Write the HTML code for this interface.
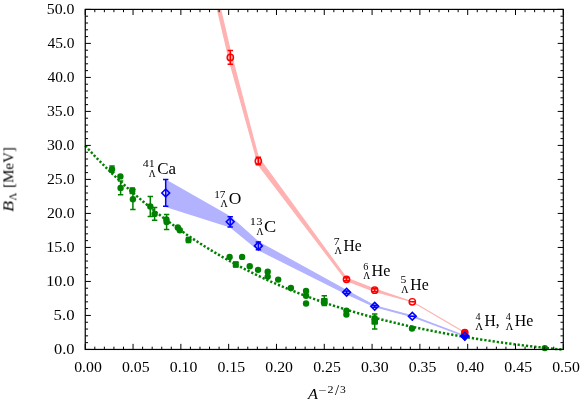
<!DOCTYPE html><html><head><meta charset="utf-8"><style>html,body{margin:0;padding:0;background:#fff}</style></head><body><svg width="581" height="402" viewBox="0 0 581 402" style="display:block">
<rect width="581" height="402" fill="#fff"/>
<defs><clipPath id="c"><rect x="85.25" y="9.4" width="478.04999999999995" height="340.05"/></clipPath></defs>
<polygon points="165.70,180.05 230.20,216.70 258.40,241.95 346.60,290.50 374.70,305.75 412.30,315.80 464.80,335.90 464.80,336.30 412.30,316.70 374.70,306.75 346.60,293.90 258.40,249.85 230.20,226.90 165.70,206.35" fill="#b2b2ff" stroke="#b2b2ff" stroke-width="1.15" stroke-linejoin="round" clip-path="url(#c)"/>
<polygon points="166.20,-221.50 230.30,50.60 258.30,157.20 346.50,278.00 374.70,289.00 412.30,301.70 464.80,332.50 464.80,332.50 412.30,301.80 374.70,291.40 346.50,280.60 258.30,164.80 230.30,64.20 166.20,-207.90" fill="#ffb2b2" stroke="#ffb2b2" stroke-width="1.15" stroke-linejoin="round" clip-path="url(#c)"/>
<path d="M85.25,145.78 L87.64,148.39 L90.04,150.97 L92.43,153.52 L94.83,156.05 L97.22,158.55 L99.62,161.02 L102.01,163.47 L104.41,165.89 L106.80,168.28 L109.20,170.65 L111.59,172.99 L113.99,175.31 L116.38,177.60 L118.78,179.87 L121.17,182.11 L123.57,184.33 L125.96,186.52 L128.36,188.69 L130.75,190.83 L133.14,192.95 L135.54,195.05 L137.93,197.12 L140.33,199.17 L142.72,201.20 L145.12,203.20 L147.51,205.18 L149.91,207.14 L152.30,209.08 L154.70,210.99 L157.09,212.89 L159.49,214.76 L161.88,216.61 L164.28,218.44 L166.67,220.25 L169.07,222.04 L171.46,223.81 L173.85,225.56 L176.25,227.28 L178.64,228.99 L181.04,230.68 L183.43,232.35 L185.83,234.00 L188.22,235.63 L190.62,237.24 L193.01,238.83 L195.41,240.41 L197.80,241.97 L200.20,243.50 L202.59,245.02 L204.99,246.53 L207.38,248.01 L209.78,249.48 L212.17,250.93 L214.57,252.36 L216.96,253.78 L219.35,255.18 L221.75,256.56 L224.14,257.93 L226.54,259.28 L228.93,260.61 L231.33,261.93 L233.72,263.24 L236.12,264.52 L238.51,265.80 L240.91,267.05 L243.30,268.29 L245.70,269.52 L248.09,270.73 L250.49,271.93 L252.88,273.12 L255.28,274.29 L257.67,275.44 L260.06,276.58 L262.46,277.71 L264.85,278.83 L267.25,279.93 L269.64,281.02 L272.04,282.09 L274.43,283.15 L276.83,284.20 L279.22,285.24 L281.62,286.26 L284.01,287.27 L286.41,288.27 L288.80,289.26 L291.20,290.23 L293.59,291.20 L295.99,292.15 L298.38,293.09 L300.78,294.02 L303.17,294.93 L305.56,295.84 L307.96,296.73 L310.35,297.62 L312.75,298.49 L315.14,299.36 L317.54,300.21 L319.93,301.05 L322.33,301.88 L324.72,302.70 L327.12,303.52 L329.51,304.32 L331.91,305.11 L334.30,305.89 L336.70,306.66 L339.09,307.43 L341.49,308.18 L343.88,308.93 L346.27,309.66 L348.67,310.39 L351.06,311.11 L353.46,311.82 L355.85,312.52 L358.25,313.21 L360.64,313.90 L363.04,314.57 L365.43,315.24 L367.83,315.90 L370.22,316.55 L372.62,317.20 L375.01,317.83 L377.41,318.46 L379.80,319.08 L382.20,319.69 L384.59,320.30 L386.99,320.90 L389.38,321.49 L391.77,322.07 L394.17,322.65 L396.56,323.22 L398.96,323.78 L401.35,324.34 L403.75,324.89 L406.14,325.43 L408.54,325.97 L410.93,326.50 L413.33,327.02 L415.72,327.54 L418.12,328.05 L420.51,328.56 L422.91,329.06 L425.30,329.55 L427.70,330.04 L430.09,330.52 L432.48,330.99 L434.88,331.46 L437.27,331.93 L439.67,332.39 L442.06,332.84 L444.46,333.29 L446.85,333.73 L449.25,334.17 L451.64,334.60 L454.04,335.03 L456.43,335.45 L458.83,335.86 L461.22,336.28 L463.62,336.68 L466.01,337.08 L468.41,337.48 L470.80,337.87 L473.20,338.26 L475.59,338.64 L477.98,339.02 L480.38,339.39 L482.77,339.76 L485.17,340.13 L487.56,340.49 L489.96,340.84 L492.35,341.19 L494.75,341.54 L497.14,341.88 L499.54,342.22 L501.93,342.55 L504.33,342.88 L506.72,343.21 L509.12,343.53 L511.51,343.84 L513.91,344.16 L516.30,344.47 L518.69,344.77 L521.09,345.07 L523.48,345.37 L525.88,345.66 L528.27,345.95 L530.67,346.24 L533.06,346.52 L535.46,346.79 L537.85,347.07 L540.25,347.34 L542.64,347.60 L545.04,347.87 L547.43,348.12 L549.83,348.38 L552.22,348.63 L554.62,348.88 L557.01,349.12 L559.41,349.36 L561.80,349.59" fill="none" stroke="#008000" stroke-width="2.5" stroke-dasharray="2.25 1.95"/>
<path d="M112.00,166.10V172.30M109.30,166.10h5.4M109.30,172.30h5.4" stroke="#008000" stroke-width="1.5" fill="none"/>
<circle cx="112" cy="169.2" r="3.2" fill="#008000"/>
<circle cx="120.4" cy="176.4" r="3.2" fill="#008000"/>
<path d="M120.60,181.10V194.70M117.90,181.10h5.4M117.90,194.70h5.4" stroke="#008000" stroke-width="1.5" fill="none"/>
<circle cx="120.6" cy="187.9" r="3.2" fill="#008000"/>
<path d="M132.30,187.90V193.50M129.60,187.90h5.4M129.60,193.50h5.4" stroke="#008000" stroke-width="1.5" fill="none"/>
<circle cx="132.3" cy="190.7" r="3.2" fill="#008000"/>
<path d="M132.90,189.20V209.40M130.20,189.20h5.4M130.20,209.40h5.4" stroke="#008000" stroke-width="1.5" fill="none"/>
<circle cx="132.9" cy="199.3" r="3.2" fill="#008000"/>
<path d="M150.30,196.60V216.40M147.60,196.60h5.4M147.60,216.40h5.4" stroke="#008000" stroke-width="1.5" fill="none"/>
<circle cx="150.3" cy="206.5" r="3.2" fill="#008000"/>
<path d="M154.60,207.60V220.20M151.90,207.60h5.4M151.90,220.20h5.4" stroke="#008000" stroke-width="1.5" fill="none"/>
<circle cx="154.6" cy="213.9" r="3.2" fill="#008000"/>
<circle cx="166.4" cy="219.5" r="3.2" fill="#008000"/>
<path d="M166.60,214.60V229.40M163.90,214.60h5.4M163.90,229.40h5.4" stroke="#008000" stroke-width="1.5" fill="none"/>
<circle cx="166.6" cy="222.0" r="3.2" fill="#008000"/>
<circle cx="177.8" cy="227.5" r="3.2" fill="#008000"/>
<circle cx="179.8" cy="230.3" r="3.2" fill="#008000"/>
<path d="M188.50,237.60V242.40M185.80,237.60h5.4M185.80,242.40h5.4" stroke="#008000" stroke-width="1.5" fill="none"/>
<circle cx="188.5" cy="240" r="3.2" fill="#008000"/>
<circle cx="229.6" cy="256.9" r="3.2" fill="#008000"/>
<circle cx="242.1" cy="256.9" r="3.2" fill="#008000"/>
<path d="M235.75,262.35V266.75M233.05,262.35h5.4M233.05,266.75h5.4" stroke="#008000" stroke-width="1.5" fill="none"/>
<rect x="232.75" y="261.35" width="6" height="6.4" rx="1" fill="#008000"/>
<circle cx="249.75" cy="266.2" r="3.2" fill="#008000"/>
<circle cx="258.06" cy="269.85" r="3.2" fill="#008000"/>
<circle cx="267.7" cy="271.75" r="3.2" fill="#008000"/>
<circle cx="267.7" cy="276.6" r="3.2" fill="#008000"/>
<circle cx="278.2" cy="279.6" r="3.2" fill="#008000"/>
<circle cx="290.9" cy="288" r="3.2" fill="#008000"/>
<circle cx="306.05" cy="291.0" r="3.2" fill="#008000"/>
<circle cx="306.05" cy="295.75" r="3.2" fill="#008000"/>
<circle cx="306.05" cy="303.5" r="3.2" fill="#008000"/>
<path d="M324.30,295.70V305.60M321.60,295.70h5.4M321.60,305.60h5.4" stroke="#008000" stroke-width="1.5" fill="none"/>
<rect x="320.90" y="298.10" width="6.8" height="7" rx="1" fill="#008000"/>
<circle cx="346.4" cy="310.8" r="3.2" fill="#008000"/>
<circle cx="346.4" cy="314.6" r="3.2" fill="#008000"/>
<circle cx="374.7" cy="318.3" r="3.2" fill="#008000"/>
<path d="M374.70,314.10V329.10M372.00,314.10h5.4M372.00,329.10h5.4" stroke="#008000" stroke-width="1.5" fill="none"/>
<rect x="371.40" y="318.40" width="6.6" height="6.4" rx="1" fill="#008000"/>
<circle cx="412.0" cy="328.5" r="3.2" fill="#008000"/>
<circle cx="544.8" cy="348.1" r="3.2" fill="#008000"/>
<path d="M165.70,179.55V206.35M163.00,179.55h5.4M163.00,206.35h5.4" stroke="#0000ff" stroke-width="1.5" fill="none"/>
<path d="M161.80,192.95L165.70,189.05L169.60,192.95L165.70,196.85Z" fill="none" stroke="#0000ff" stroke-width="1.6"/>
<path d="M230.20,216.70V226.90M227.50,216.70h5.4M227.50,226.90h5.4" stroke="#0000ff" stroke-width="1.5" fill="none"/>
<path d="M226.30,221.80L230.20,217.90L234.10,221.80L230.20,225.70Z" fill="none" stroke="#0000ff" stroke-width="1.6"/>
<path d="M258.40,241.95V249.85M255.70,241.95h5.4M255.70,249.85h5.4" stroke="#0000ff" stroke-width="1.5" fill="none"/>
<path d="M254.50,245.90L258.40,242.00L262.30,245.90L258.40,249.80Z" fill="none" stroke="#0000ff" stroke-width="1.6"/>
<path d="M346.60,291.00V293.40M343.90,291.00h5.4M343.90,293.40h5.4" stroke="#0000ff" stroke-width="1.5" fill="none"/>
<path d="M342.70,292.20L346.60,288.30L350.50,292.20L346.60,296.10Z" fill="none" stroke="#0000ff" stroke-width="1.6"/>
<path d="M374.70,305.35V307.15M372.00,305.35h5.4M372.00,307.15h5.4" stroke="#0000ff" stroke-width="1.5" fill="none"/>
<path d="M370.80,306.25L374.70,302.35L378.60,306.25L374.70,310.15Z" fill="none" stroke="#0000ff" stroke-width="1.6"/>
<path d="M412.30,316.15V316.35M409.60,316.15h5.4M409.60,316.35h5.4" stroke="#0000ff" stroke-width="1.5" fill="none"/>
<path d="M408.40,316.25L412.30,312.35L416.20,316.25L412.30,320.15Z" fill="none" stroke="#0000ff" stroke-width="1.6"/>
<path d="M464.80,335.90V336.30M462.10,335.90h5.4M462.10,336.30h5.4" stroke="#0000ff" stroke-width="1.5" fill="none"/>
<path d="M460.90,336.10L464.80,332.20L468.70,336.10L464.80,340.00Z" fill="#0000ff" stroke="#0000ff" stroke-width="1.6"/>
<path d="M230.30,50.60V64.20M227.60,50.60h5.4M227.60,64.20h5.4" stroke="#ff0000" stroke-width="1.5" fill="none"/>
<circle cx="230.3" cy="57.4" r="3.15" fill="none" stroke="#ff0000" stroke-width="1.45"/>
<path d="M258.30,157.20V164.80M255.60,157.20h5.4M255.60,164.80h5.4" stroke="#ff0000" stroke-width="1.5" fill="none"/>
<circle cx="258.3" cy="161.0" r="3.15" fill="none" stroke="#ff0000" stroke-width="1.45"/>
<path d="M346.50,277.80V280.80M343.80,277.80h5.4M343.80,280.80h5.4" stroke="#ff0000" stroke-width="1.5" fill="none"/>
<circle cx="346.5" cy="279.3" r="3.15" fill="none" stroke="#ff0000" stroke-width="1.45"/>
<path d="M374.70,288.70V291.70M372.00,288.70h5.4M372.00,291.70h5.4" stroke="#ff0000" stroke-width="1.5" fill="none"/>
<circle cx="374.7" cy="290.2" r="3.15" fill="none" stroke="#ff0000" stroke-width="1.45"/>
<path d="M412.30,301.65V301.85M409.60,301.65h5.4M409.60,301.85h5.4" stroke="#ff0000" stroke-width="1.5" fill="none"/>
<circle cx="412.3" cy="301.75" r="3.15" fill="none" stroke="#ff0000" stroke-width="1.45"/>
<path d="M464.80,332.20V332.80M462.10,332.20h5.4M462.10,332.80h5.4" stroke="#ff0000" stroke-width="1.5" fill="none"/>
<circle cx="464.8" cy="332.5" r="3.15" fill="#ff0000" stroke="#ff0000" stroke-width="1.45"/>
<path d="M460.90,336.10L464.80,332.20L468.70,336.10L464.80,340.00Z" fill="#0000ff" stroke="#0000ff" stroke-width="1.5"/>
<rect x="463.6" y="333.5" width="2" height="1.3" fill="#e01030" opacity="0.8"/>
<path d="M85.25,349.45v-5.6M85.25,9.4v5.6M94.81,349.45v-2.8M94.81,9.4v2.8M104.37,349.45v-2.8M104.37,9.4v2.8M113.93,349.45v-2.8M113.93,9.4v2.8M123.49,349.45v-2.8M123.49,9.4v2.8M133.06,349.45v-5.6M133.06,9.4v5.6M142.62,349.45v-2.8M142.62,9.4v2.8M152.18,349.45v-2.8M152.18,9.4v2.8M161.74,349.45v-2.8M161.74,9.4v2.8M171.30,349.45v-2.8M171.30,9.4v2.8M180.86,349.45v-5.6M180.86,9.4v5.6M190.42,349.45v-2.8M190.42,9.4v2.8M199.98,349.45v-2.8M199.98,9.4v2.8M209.54,349.45v-2.8M209.54,9.4v2.8M219.10,349.45v-2.8M219.10,9.4v2.8M228.66,349.45v-5.6M228.66,9.4v5.6M238.23,349.45v-2.8M238.23,9.4v2.8M247.79,349.45v-2.8M247.79,9.4v2.8M257.35,349.45v-2.8M257.35,9.4v2.8M266.91,349.45v-2.8M266.91,9.4v2.8M276.47,349.45v-5.6M276.47,9.4v5.6M286.03,349.45v-2.8M286.03,9.4v2.8M295.59,349.45v-2.8M295.59,9.4v2.8M305.15,349.45v-2.8M305.15,9.4v2.8M314.71,349.45v-2.8M314.71,9.4v2.8M324.27,349.45v-5.6M324.27,9.4v5.6M333.84,349.45v-2.8M333.84,9.4v2.8M343.40,349.45v-2.8M343.40,9.4v2.8M352.96,349.45v-2.8M352.96,9.4v2.8M362.52,349.45v-2.8M362.52,9.4v2.8M372.08,349.45v-5.6M372.08,9.4v5.6M381.64,349.45v-2.8M381.64,9.4v2.8M391.20,349.45v-2.8M391.20,9.4v2.8M400.76,349.45v-2.8M400.76,9.4v2.8M410.32,349.45v-2.8M410.32,9.4v2.8M419.88,349.45v-5.6M419.88,9.4v5.6M429.45,349.45v-2.8M429.45,9.4v2.8M439.01,349.45v-2.8M439.01,9.4v2.8M448.57,349.45v-2.8M448.57,9.4v2.8M458.13,349.45v-2.8M458.13,9.4v2.8M467.69,349.45v-5.6M467.69,9.4v5.6M477.25,349.45v-2.8M477.25,9.4v2.8M486.81,349.45v-2.8M486.81,9.4v2.8M496.37,349.45v-2.8M496.37,9.4v2.8M505.93,349.45v-2.8M505.93,9.4v2.8M515.49,349.45v-5.6M515.49,9.4v5.6M525.06,349.45v-2.8M525.06,9.4v2.8M534.62,349.45v-2.8M534.62,9.4v2.8M544.18,349.45v-2.8M544.18,9.4v2.8M553.74,349.45v-2.8M553.74,9.4v2.8M563.30,349.45v-5.6M563.30,9.4v5.6M85.25,349.45h5.6M563.3,349.45h-5.6M85.25,342.65h2.8M563.3,342.65h-2.8M85.25,335.85h2.8M563.3,335.85h-2.8M85.25,329.05h2.8M563.3,329.05h-2.8M85.25,322.25h2.8M563.3,322.25h-2.8M85.25,315.44h5.6M563.3,315.44h-5.6M85.25,308.64h2.8M563.3,308.64h-2.8M85.25,301.84h2.8M563.3,301.84h-2.8M85.25,295.04h2.8M563.3,295.04h-2.8M85.25,288.24h2.8M563.3,288.24h-2.8M85.25,281.44h5.6M563.3,281.44h-5.6M85.25,274.64h2.8M563.3,274.64h-2.8M85.25,267.84h2.8M563.3,267.84h-2.8M85.25,261.04h2.8M563.3,261.04h-2.8M85.25,254.24h2.8M563.3,254.24h-2.8M85.25,247.44h5.6M563.3,247.44h-5.6M85.25,240.63h2.8M563.3,240.63h-2.8M85.25,233.83h2.8M563.3,233.83h-2.8M85.25,227.03h2.8M563.3,227.03h-2.8M85.25,220.23h2.8M563.3,220.23h-2.8M85.25,213.43h5.6M563.3,213.43h-5.6M85.25,206.63h2.8M563.3,206.63h-2.8M85.25,199.83h2.8M563.3,199.83h-2.8M85.25,193.03h2.8M563.3,193.03h-2.8M85.25,186.23h2.8M563.3,186.23h-2.8M85.25,179.42h5.6M563.3,179.42h-5.6M85.25,172.62h2.8M563.3,172.62h-2.8M85.25,165.82h2.8M563.3,165.82h-2.8M85.25,159.02h2.8M563.3,159.02h-2.8M85.25,152.22h2.8M563.3,152.22h-2.8M85.25,145.42h5.6M563.3,145.42h-5.6M85.25,138.62h2.8M563.3,138.62h-2.8M85.25,131.82h2.8M563.3,131.82h-2.8M85.25,125.02h2.8M563.3,125.02h-2.8M85.25,118.22h2.8M563.3,118.22h-2.8M85.25,111.41h5.6M563.3,111.41h-5.6M85.25,104.61h2.8M563.3,104.61h-2.8M85.25,97.81h2.8M563.3,97.81h-2.8M85.25,91.01h2.8M563.3,91.01h-2.8M85.25,84.21h2.8M563.3,84.21h-2.8M85.25,77.41h5.6M563.3,77.41h-5.6M85.25,70.61h2.8M563.3,70.61h-2.8M85.25,63.81h2.8M563.3,63.81h-2.8M85.25,57.01h2.8M563.3,57.01h-2.8M85.25,50.21h2.8M563.3,50.21h-2.8M85.25,43.40h5.6M563.3,43.40h-5.6M85.25,36.60h2.8M563.3,36.60h-2.8M85.25,29.80h2.8M563.3,29.80h-2.8M85.25,23.00h2.8M563.3,23.00h-2.8M85.25,16.20h2.8M563.3,16.20h-2.8M85.25,9.40h5.6M563.3,9.40h-5.6" stroke="#000" stroke-width="1" fill="none"/>
<rect x="85.25" y="9.4" width="478.04999999999995" height="340.05" fill="none" stroke="#000" stroke-width="1.2"/>
<g font-family="Liberation Serif, serif" fill="#000" opacity="0.999">
<text x="53.97" y="354.00" font-size="14px" textLength="20.55" lengthAdjust="spacingAndGlyphs">0.0</text>
<text x="53.63" y="320.00" font-size="14px" textLength="20.91" lengthAdjust="spacingAndGlyphs">5.0</text>
<text x="46.28" y="285.99" font-size="14px" textLength="28.23" lengthAdjust="spacingAndGlyphs">10.0</text>
<text x="46.28" y="251.99" font-size="14px" textLength="28.23" lengthAdjust="spacingAndGlyphs">15.0</text>
<text x="47.01" y="217.98" font-size="14px" textLength="27.49" lengthAdjust="spacingAndGlyphs">20.0</text>
<text x="47.01" y="183.97" font-size="14px" textLength="27.49" lengthAdjust="spacingAndGlyphs">25.0</text>
<text x="46.95" y="149.97" font-size="14px" textLength="27.55" lengthAdjust="spacingAndGlyphs">30.0</text>
<text x="46.95" y="115.96" font-size="14px" textLength="27.55" lengthAdjust="spacingAndGlyphs">35.0</text>
<text x="47.40" y="81.96" font-size="14px" textLength="27.09" lengthAdjust="spacingAndGlyphs">40.0</text>
<text x="47.40" y="47.95" font-size="14px" textLength="27.09" lengthAdjust="spacingAndGlyphs">45.0</text>
<text x="46.78" y="13.95" font-size="14px" textLength="27.72" lengthAdjust="spacingAndGlyphs">50.0</text>
<text x="74.15" y="372.00" font-size="14px" textLength="27.65" lengthAdjust="spacingAndGlyphs">0.00</text>
<text x="121.95" y="372.00" font-size="14px" textLength="27.67" lengthAdjust="spacingAndGlyphs">0.05</text>
<text x="169.76" y="372.00" font-size="14px" textLength="27.65" lengthAdjust="spacingAndGlyphs">0.10</text>
<text x="217.56" y="372.00" font-size="14px" textLength="27.67" lengthAdjust="spacingAndGlyphs">0.15</text>
<text x="265.37" y="372.00" font-size="14px" textLength="27.65" lengthAdjust="spacingAndGlyphs">0.20</text>
<text x="313.17" y="372.00" font-size="14px" textLength="27.67" lengthAdjust="spacingAndGlyphs">0.25</text>
<text x="360.98" y="372.00" font-size="14px" textLength="27.65" lengthAdjust="spacingAndGlyphs">0.30</text>
<text x="408.78" y="372.00" font-size="14px" textLength="27.67" lengthAdjust="spacingAndGlyphs">0.35</text>
<text x="456.59" y="372.00" font-size="14px" textLength="27.65" lengthAdjust="spacingAndGlyphs">0.40</text>
<text x="504.39" y="372.00" font-size="14px" textLength="27.67" lengthAdjust="spacingAndGlyphs">0.45</text>
<text x="552.20" y="372.00" font-size="14px" textLength="27.65" lengthAdjust="spacingAndGlyphs">0.50</text>
<text x="142.82" y="167.15" font-size="9.8px" textLength="12.01" lengthAdjust="spacingAndGlyphs">41</text>
<text x="148.86" y="176.65" font-size="11px" textLength="6.89" lengthAdjust="spacingAndGlyphs" stroke="#000" stroke-width="0.1">Λ</text>
<text x="157.20" y="173.55" font-size="17.2px" textLength="18.83" lengthAdjust="spacingAndGlyphs">Ca</text>
<text x="214.15" y="197.60" font-size="9.8px" textLength="11.32" lengthAdjust="spacingAndGlyphs">17</text>
<text x="220.60" y="207.10" font-size="11px" textLength="7.20" lengthAdjust="spacingAndGlyphs" stroke="#000" stroke-width="0.1">Λ</text>
<text x="228.88" y="204.00" font-size="17.2px" textLength="12.64" lengthAdjust="spacingAndGlyphs">O</text>
<text x="249.89" y="225.10" font-size="9.8px" textLength="12.60" lengthAdjust="spacingAndGlyphs">13</text>
<text x="256.41" y="234.60" font-size="11px" textLength="6.89" lengthAdjust="spacingAndGlyphs" stroke="#000" stroke-width="0.1">Λ</text>
<text x="263.95" y="231.50" font-size="17.2px" textLength="12.21" lengthAdjust="spacingAndGlyphs">C</text>
<text x="333.74" y="244.80" font-size="9.8px" textLength="5.80" lengthAdjust="spacingAndGlyphs">7</text>
<text x="334.40" y="254.30" font-size="11px" textLength="7.40" lengthAdjust="spacingAndGlyphs" stroke="#000" stroke-width="0.1">Λ</text>
<text x="343.45" y="251.20" font-size="17.2px" textLength="18.08" lengthAdjust="spacingAndGlyphs">He</text>
<text x="363.36" y="269.70" font-size="9.8px" textLength="5.15" lengthAdjust="spacingAndGlyphs">6</text>
<text x="363.31" y="279.20" font-size="11px" textLength="6.89" lengthAdjust="spacingAndGlyphs" stroke="#000" stroke-width="0.1">Λ</text>
<text x="371.53" y="276.10" font-size="17.2px" textLength="18.82" lengthAdjust="spacingAndGlyphs">He</text>
<text x="400.62" y="283.30" font-size="9.8px" textLength="5.83" lengthAdjust="spacingAndGlyphs">5</text>
<text x="401.20" y="292.80" font-size="11px" textLength="7.20" lengthAdjust="spacingAndGlyphs" stroke="#000" stroke-width="0.1">Λ</text>
<text x="410.35" y="289.70" font-size="17.2px" textLength="18.40" lengthAdjust="spacingAndGlyphs">He</text>
<text x="475.50" y="320.05" font-size="9.8px" textLength="5.06" lengthAdjust="spacingAndGlyphs">4</text>
<text x="475.19" y="329.55" font-size="11px" textLength="7.82" lengthAdjust="spacingAndGlyphs" stroke="#000" stroke-width="0.1">Λ</text>
<text x="484.55" y="326.45" font-size="17.2px" textLength="15.13" lengthAdjust="spacingAndGlyphs">H,</text>
<text x="505.80" y="320.05" font-size="9.8px" textLength="5.06" lengthAdjust="spacingAndGlyphs">4</text>
<text x="505.80" y="329.55" font-size="11px" textLength="7.51" lengthAdjust="spacingAndGlyphs" stroke="#000" stroke-width="0.1">Λ</text>
<text x="514.84" y="326.45" font-size="17.2px" textLength="18.51" lengthAdjust="spacingAndGlyphs">He</text>
<text x="308.09" y="399.40" font-size="15px" font-style="italic" textLength="9.95" lengthAdjust="spacingAndGlyphs">A</text>
<text x="318.58" y="394.10" font-size="10px" textLength="8.12" lengthAdjust="spacingAndGlyphs">−</text>
<text x="327.47" y="393.20" font-size="10px" textLength="5.99" lengthAdjust="spacingAndGlyphs">2</text>
<text x="334.90" y="395.10" font-size="14px" textLength="4.10" lengthAdjust="spacingAndGlyphs">/</text>
<text x="339.94" y="393.20" font-size="10px" textLength="5.81" lengthAdjust="spacingAndGlyphs">3</text>
<g transform="translate(13.4,211.6) rotate(-90)">
<text x="-0.17" y="0.00" font-size="15px" font-style="italic" textLength="10.96" lengthAdjust="spacingAndGlyphs">B</text>
<text x="11.09" y="3.00" font-size="11.2px" textLength="7.92" lengthAdjust="spacingAndGlyphs">Λ</text>
<text x="23.79" y="0.00" font-size="15px" textLength="40.62" lengthAdjust="spacingAndGlyphs">[MeV]</text>
</g></g>
</svg></body></html>
